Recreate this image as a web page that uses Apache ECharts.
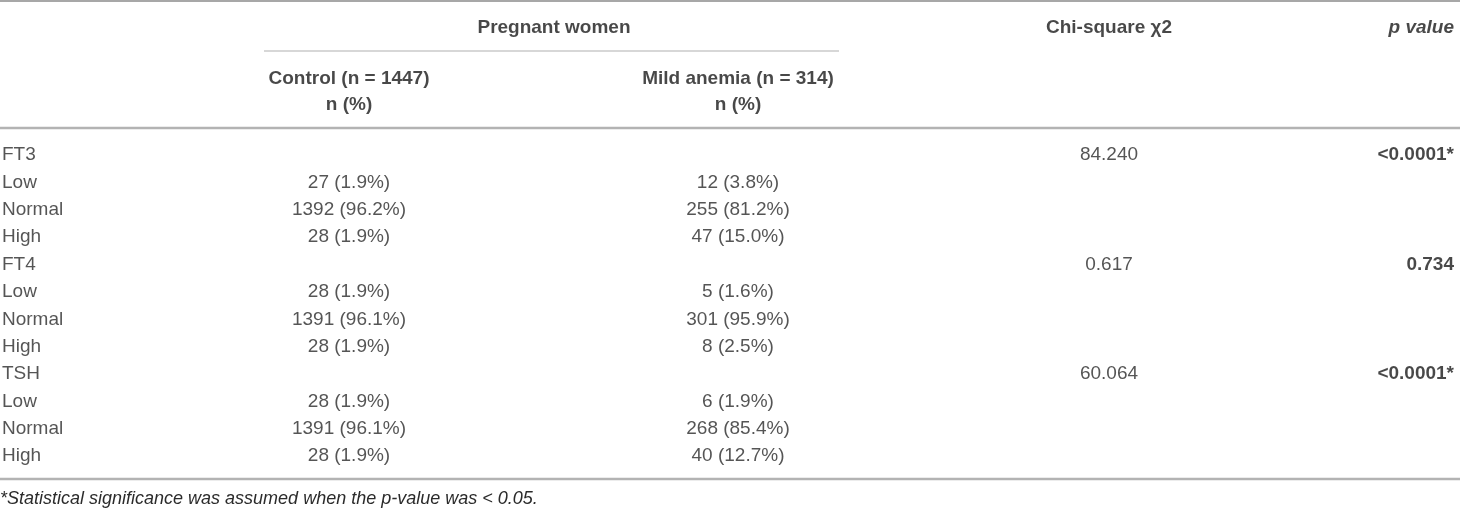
<!DOCTYPE html>
<html>
<head>
<meta charset="utf-8">
<script src="https://cdn.jsdelivr.net/npm/echarts/dist/echarts.min.js"></script>
<style>
    html, body { margin: 0; padding: 0; background: #fff; }
    #main { width: 1460px; height: 510px; }
</style>
</head>
<body>
<div id="main"></div>
<script>
    // table values
    var rowLabels = ['FT3', 'Low', 'Normal', 'High', 'FT4', 'Low', 'Normal', 'High', 'TSH', 'Low', 'Normal', 'High'];
    var controlN = [null, 27, 1392, 28, null, 28, 1391, 28, null, 28, 1391, 28];
    var controlPct = [null, 1.9, 96.2, 1.9, null, 1.9, 96.1, 1.9, null, 1.9, 96.1, 1.9];
    var anemiaN = [null, 12, 255, 47, null, 5, 301, 8, null, 6, 268, 40];
    var anemiaPct = [null, 3.8, 81.2, 15.0, null, 1.6, 95.9, 2.5, null, 1.9, 85.4, 12.7];
    var chiSquare = [84.240, null, null, null, 0.617, null, null, null, 60.064, null, null, null];
    var pValues = ['<0.0001*', null, null, null, '0.734', null, null, null, '<0.0001*', null, null, null];

    // header texts
    var groupTitle = 'Pregnant women';
    var subgroupTitles = ['Control (n = 1447)', 'Mild anemia (n = 314)'];
    var unitTitle = 'n (%)';
    var statTitles = ['Chi-square χ2', 'p value'];
    var footnote = '*Statistical significance was assumed when the p-value was < 0.05.';

    // column anchors (px on the hidden x axis)
    var colLabel = 2, colControl = 349, colAnemia = 738, colGroup = 554, colChi = 1109, colP = 1454;

    var FONT = '"Liberation Sans", Arial, Helvetica, sans-serif';

    function cellText(n, pct) {
        return n == null ? null : n + ' (' + pct.toFixed(1) + '%)';
    }

    // one scatter series that only shows labels
    function textSeries(grid, x, texts, align, style) {
        var data = [];
        texts.forEach(function (t, i) {
            if (t != null) data.push({ name: t, value: [x, i] });
        });
        return {
            type: 'scatter',
            xAxisIndex: grid,
            yAxisIndex: grid,
            symbolSize: 0,
            silent: true,
            data: data,
            label: Object.assign({
                show: true,
                position: 'inside',
                formatter: '{b}',
                align: align,
                verticalAlign: 'middle',
                fontFamily: FONT,
                fontSize: 19,
                color: '#2b2b2b'
            }, style || {})
        };
    }

    var bold = { fontWeight: 'bold', color: '#1a1a1a' };

    var myChart = echarts.init(document.getElementById('main'));
    var option = {
        animation: false,
        grid: [
            { left: 0, right: 0, top: 14.6, height: 102.7 },   // header rows
            { left: 0, right: 0, top: 141.5, height: 328.3 }   // body rows
        ],
        xAxis: [
            { gridIndex: 0, type: 'value', min: 0, max: 1460, show: false },
            { gridIndex: 1, type: 'value', min: 0, max: 1460, show: false }
        ],
        yAxis: [
            { gridIndex: 0, type: 'category', inverse: true, data: ['0', '1', '2', '3'], show: false },
            { gridIndex: 1, type: 'category', inverse: true, data: rowLabels.map(function (r, i) { return r + i; }), show: false }
        ],
        title: {
            text: footnote,
            left: 0,
            top: 490,
            padding: 0,
            textStyle: { fontFamily: FONT, fontSize: 18, fontStyle: 'italic', fontWeight: 'normal', color: '#2b2b2b' }
        },
        graphic: [
            { type: 'line', shape: { x1: 0, y1: 1, x2: 1460, y2: 1 }, style: { stroke: '#8a8a8a', lineWidth: 1.5 } },
            { type: 'line', shape: { x1: 264, y1: 51, x2: 839, y2: 51 }, style: { stroke: '#b0b0b0', lineWidth: 1.2 } },
            { type: 'line', shape: { x1: 0, y1: 128, x2: 1460, y2: 128 }, style: { stroke: '#b3b3b3', lineWidth: 2.5 } },
            { type: 'line', shape: { x1: 0, y1: 479, x2: 1460, y2: 479 }, style: { stroke: '#b3b3b3', lineWidth: 2.5 } }
        ],
        series: [
            // header
            textSeries(0, colGroup, [groupTitle], 'center', bold),
            textSeries(0, colControl, [null, null, subgroupTitles[0], unitTitle], 'center', bold),
            textSeries(0, colAnemia, [null, null, subgroupTitles[1], unitTitle], 'center', bold),
            textSeries(0, colChi, [statTitles[0]], 'center', bold),
            textSeries(0, colP, [statTitles[1]], 'right', { fontWeight: 'bold', fontStyle: 'italic', color: '#1a1a1a' }),
            // body
            textSeries(1, colLabel, rowLabels, 'left'),
            textSeries(1, colControl, controlN.map(function (n, i) { return cellText(n, controlPct[i]); }), 'center'),
            textSeries(1, colAnemia, anemiaN.map(function (n, i) { return cellText(n, anemiaPct[i]); }), 'center'),
            textSeries(1, colChi, chiSquare.map(function (v) { return v == null ? null : v.toFixed(3); }), 'center'),
            textSeries(1, colP, pValues, 'right', bold)
        ]
    };
    myChart.setOption(option);
</script>
</body>
</html>
